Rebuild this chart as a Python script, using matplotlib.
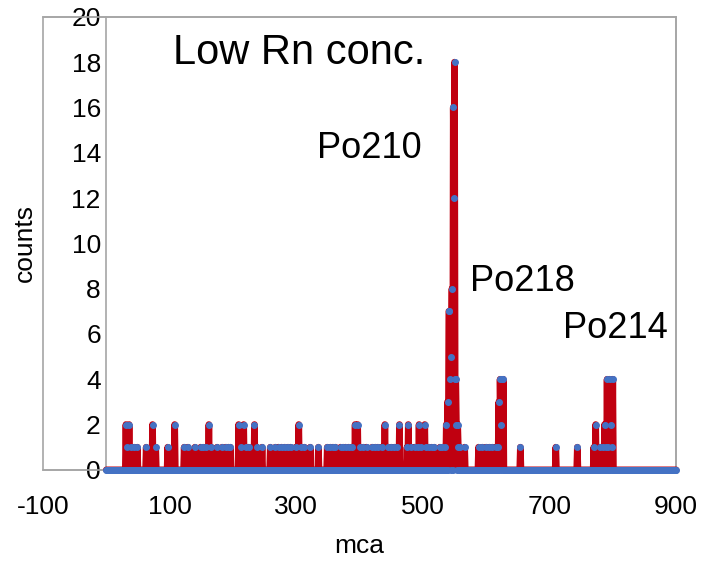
import numpy as np
import matplotlib.pyplot as plt

plt.rcParams['font.family'] = ['Liberation Sans', 'DejaVu Sans']
plt.rcParams['axes.unicode_minus'] = False

# mca channels 0..900, most are empty
n_channels = 901
hit_channels = [31, 33, 36, 39, 44, 49,
                63, 73, 78,
                97, 108,
                123, 129, 140, 149, 153, 158, 162, 166, 175, 183, 189, 193, 196,
                209, 213, 217, 221, 225, 234, 238, 246,
                259, 267, 272, 277, 282, 287, 291, 299, 304, 308, 313, 322,
                335,
                349, 354, 358, 362, 370, 374, 378, 383, 388, 393, 397, 401, 406, 411,
                420, 425, 429, 435, 440, 445, 450, 455, 459, 463,
                475, 477, 482, 487, 492, 494, 497, 503, 505, 510, 514, 518, 527, 531, 535,
                537, 539, 541, 542, 543, 545, 546, 548, 549, 550, 551, 552, 553, 555, 556, 558, 566,
                588, 594, 600, 605, 610, 615, 619, 620, 622, 623, 625, 627,
                654, 710, 744,
                770, 773, 780, 784, 787, 789, 791, 793, 795, 797, 798, 800]
hit_counts = [2, 1, 2, 1, 1, 1,
              1, 2, 1,
              1, 2,
              1, 1, 1, 1, 1, 1, 2, 1, 1, 1, 1, 1, 1,
              2, 1, 2, 1, 1, 2, 1, 1,
              1, 1, 1, 1, 1, 1, 1, 1, 2, 1, 1, 1,
              1,
              1, 1, 1, 1, 1, 1, 1, 1, 1, 2, 2, 1, 1, 1,
              1, 1, 1, 1, 2, 1, 1, 1, 1, 2,
              1, 2, 1, 1, 1, 2, 1, 2, 1, 1, 1, 1, 1, 1, 1,
              2, 3, 7, 7, 4, 5, 8, 16, 12, 18, 4, 4, 2, 2, 1, 1, 1,
              1, 1, 1, 1, 1, 1, 1, 3, 4, 2, 4, 4,
              1, 1, 1,
              1, 2, 1, 1, 2, 1, 4, 1, 4, 2, 1, 4]

mca = np.arange(n_channels)
counts = np.zeros(n_channels)
counts[hit_channels] = hit_counts

peak_labels = ['Po210', 'Po218', 'Po214']
peak_label_xy = [(333, 14.2), (574, 8.3), (722, 6.25)]

fig = plt.figure(figsize=(7.05, 5.62), dpi=100)
ax = fig.add_axes([0.061, 0.164, 0.898, 0.806])

ax.plot(mca, counts, color='#C00010', lw=4.8, solid_joinstyle='round',
        solid_capstyle='round', marker='o', ms=4, mfc='#4472C4', mec='#4472C4',
        zorder=3, clip_on=False)

ax.set_xlim(-100, 900)
ax.set_ylim(0, 20)
ax.set_xticks([-100, 100, 300, 500, 700, 900])
ax.set_yticks(range(0, 21, 2))

gray = '#A6A6A6'
ax.spines['left'].set_position(('data', 0))
for s in ax.spines.values():
    s.set_color(gray)
    s.set_linewidth(1.2)
frame = plt.Rectangle((0, 0), 1, 1, transform=ax.transAxes, fill=False,
                      edgecolor=gray, lw=1.2, clip_on=False, zorder=0)
ax.add_patch(frame)

ax.tick_params(axis='y', length=0, pad=4, labelsize=19)
ax.tick_params(axis='x', length=0, pad=18, labelsize=19)
ax.set_xlabel('mca', fontsize=19, labelpad=11)
ax.set_ylabel('counts', fontsize=19)
ax.yaxis.set_label_coords(-0.01, 0.5)

ax.text(105, 18.4, 'Low Rn conc.', fontsize=30, va='center', ha='left')
for lab, (x, y) in zip(peak_labels, peak_label_xy):
    ax.text(x, y, lab, fontsize=26, va='center', ha='left')

fig.savefig('out.png', dpi=100)
